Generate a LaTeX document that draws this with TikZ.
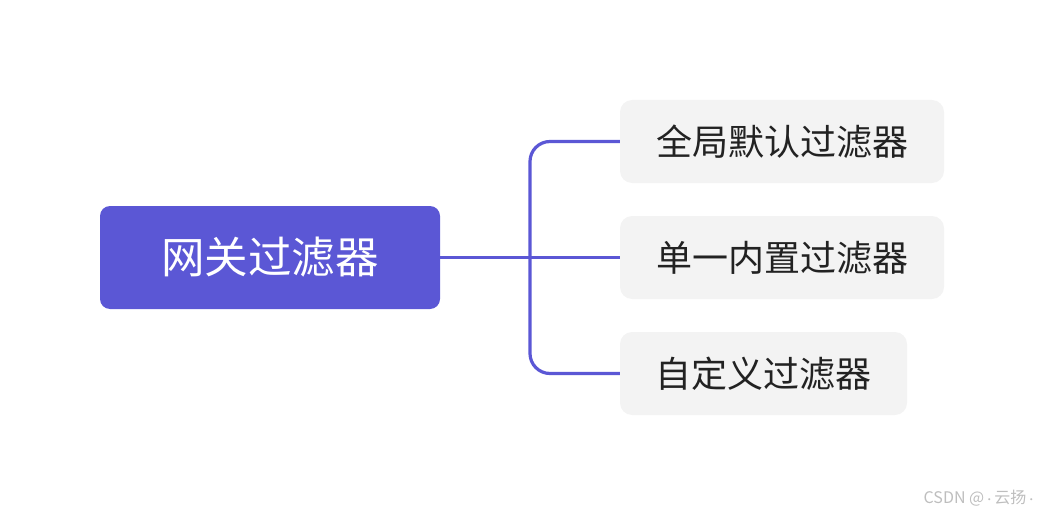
\documentclass[tikz,border=0pt]{standalone}
\usepackage{fontspec}
\setmainfont{Noto Sans CJK SC}
\usetikzlibrary{positioning}

\definecolor{rootblue}{RGB}{91,87,213}
\definecolor{kidgray}{RGB}{243,243,243}
\definecolor{kidtext}{RGB}{34,34,34}
\definecolor{marktext}{RGB}{190,190,190}

\tikzset{
    rootbox/.style={fill=rootblue, rounded corners=10pt, text=white,
        minimum width=340pt, minimum height=103pt, inner sep=0pt,
        font=\fontsize{43.5}{46}\selectfont},
    kidbox/.style={fill=kidgray, rounded corners=12pt, text=kidtext,
        minimum height=83pt, inner sep=0pt,
        font=\fontsize{36}{39}\selectfont},
    branch/.style={draw=rootblue, line width=3.2pt, rounded corners=20pt}
}

\begin{document}
\begin{tikzpicture}[x=1pt, y=-1pt]
        \useasboundingbox (0, 0) rectangle (1044, 516);

        \node[rootbox] (root) at (270, 257.5) {网关过滤器};

        \foreach \name/\cx/\cy/\w/\txt in { kida/782/141.5/324/全局默认过滤器,
            kidb/782/257.5/324/单一内置过滤器,
            kidc/763.5/373.5/287/自定义过滤器} {
            \node[kidbox, minimum width=\w pt] (\name) at (\cx, \cy) {\txt};
        }

        \coordinate (fork) at (530, 257.5);

        \draw[branch] (root.east) -- (kidb.west);
        \draw[branch] (kida.west) -| (fork) |- (kidc.west);

        \node[text=marktext, font=\fontsize{16}{18}\selectfont] (mark)
            at (980, 498) {CSDN @{\fontsize{10}{12}\selectfont·}云扬{\fontsize{10}{12}\selectfont·}};
    \end{tikzpicture}
\end{document}
